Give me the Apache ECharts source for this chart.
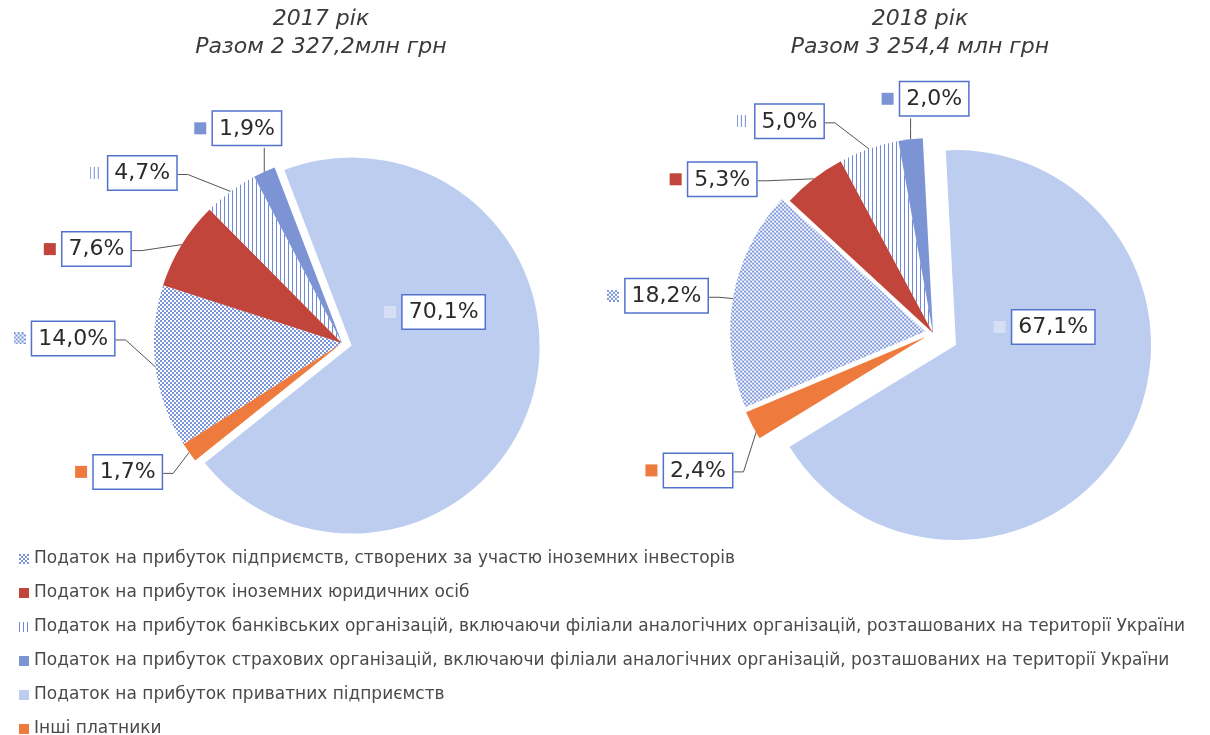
<!DOCTYPE html>
<html>
<head>
<meta charset="utf-8">
<script src="https://cdn.jsdelivr.net/npm/echarts@6/dist/echarts.min.js"></script>
<style>
  html, body { margin: 0; background: #fff; }
  #chart { width: 1210px; height: 735px; }
</style>
</head>
<body>
<div id="chart"></div>
<script>
// категорії платників (порядок легенди)
var categories = [
  'Податок на прибуток підприємств, створених за участю іноземних інвесторів',
  'Податок на прибуток іноземних юридичних осіб',
  'Податок на прибуток банківських організацій, включаючи філіали аналогічних організацій, розташованих на території України',
  'Податок на прибуток страхових організацій, включаючи філіали аналогічних організацій, розташованих на території України',
  'Податок на прибуток приватних підприємств',
  'Інші платники'
];
var years = ['2017 рік', '2018 рік'];
var totals = ['Разом 2 327,2млн грн', 'Разом 3 254,4 млн грн'];
var share2017 = [14.0, 7.6, 4.7, 1.9, 70.1, 1.7];
var share2018 = [18.2, 5.3, 5.0, 2.0, 67.1, 2.4];
// порядок секторів за годинниковою стрілкою, починаючи з найбільшого
var sliceOrder = [4, 5, 0, 1, 2, 3];

function makePattern(w, h, step, draw) {
  var c = document.createElement('canvas');
  c.width = w; c.height = h;
  var ctx = c.getContext('2d');
  ctx.fillStyle = '#ffffff';
  ctx.fillRect(0, 0, w, h);
  for (var x = 0; x < w; x += step) {
    for (var y = 0; y < h; y += step) draw(ctx, x, y);
  }
  return c;
}
function drawStripe(ctx, x, y) {
  ctx.fillStyle = '#6f8bd6';
  ctx.fillRect(x, y, 1, 4);
}
function drawCheck(ctx, x, y) {
  ctx.fillStyle = '#7b95da';
  ctx.fillRect(x, y, 2, 2);
  ctx.fillRect(x + 2, y + 2, 2, 2);
}
var stripes = makePattern(4, 4, 4, drawStripe);
var checks = makePattern(4, 4, 4, drawCheck);

var colors = [
  { image: checks, repeat: 'repeat' },
  '#c1453a',
  { image: stripes, repeat: 'repeat' },
  '#7d94d4',
  '#bccdef',
  '#ee7b3d'
];
var keyColors = [
  { image: makePattern(12, 12, 4, drawCheck) },
  '#c1453a',
  { image: makePattern(12, 12, 4, drawStripe) },
  '#7d94d4',
  '#d6e0f5',
  '#ee7b3d'
];

var rich = {
  v: {
    fontFamily: 'DejaVu Sans',
    fontSize: 22,
    color: '#2b2b2b',
    backgroundColor: '#fff',
    borderColor: '#5272cc',
    borderWidth: 1.5,
    padding: [6, 6, 5, 6]
  }
};
keyColors.forEach(function (c, i) {
  rich['k' + i] = { width: 12, height: 12, backgroundColor: c };
});

function fmt(p) {
  var i = categories.indexOf(p.name);
  return '{k' + i + '|}  {v|' + p.value.toFixed(1).replace('.', ',') + '%}';
}

// зсув підписів відносно точки на краю сектора (для великого сектора — відносно його звичайного місця)
var labelShift2017 = { 0: [-142, -45], 1: [-138, -12], 2: [-141, -35], 3: [-70, -60], 5: [-114, 3], 4: [-11, -59] };
var labelShift2018 = { 0: [-134, -20], 1: [-144, -16], 2: [-132, -44], 3: [-29, -57], 5: [-114, 32], 4: [-1, -65] };

function makeLayout(shifts, above) {
  return function (p) {
    var i = sliceOrder[p.dataIndex];
    var s = shifts[i];
    var r = p.labelRect;
    if (!s || !r) return {};
    if (i === 4) {
      return { dx: s[0], dy: s[1] };
    }
    var a = p.labelLinePoints && p.labelLinePoints[0];
    if (!a) return {};
    var x = a[0] + s[0], y = a[1] + s[1];
    var pts;
    if (i === above) {
      pts = [a, [a[0], (a[1] + y + r.height) / 2], [a[0], y + r.height]];
    } else {
      var ey = y + r.height / 2;
      pts = [a, [x + r.width + 10, ey], [x + r.width, ey]];
    }
    return { x: x, y: y, align: 'left', verticalAlign: 'top', labelLinePoints: pts };
  };
}

function buildSeries(shares, center, radius, startAngle, offset, opts) {
  return {
    type: 'pie',
    center: center,
    radius: radius,
    startAngle: startAngle,
    clockwise: true,
    selectedMode: 'multiple',
    selectedOffset: offset,
    animation: false,
    silent: true,
    avoidLabelOverlap: false,
    itemStyle: { borderWidth: 0 },
    label: { show: opts.labels, formatter: fmt, rich: rich },
    labelLine: { show: opts.labels, length: 16, length2: 14, lineStyle: { color: '#555', width: 1 } },
    labelLayout: opts.layout,
    emphasis: { disabled: true },
    data: sliceOrder.map(function (i) {
      var visible = !opts.visible || opts.visible.indexOf(i) >= 0;
      var item = {
        name: categories[i],
        value: shares[i],
        selected: opts.selected.indexOf(i) >= 0,
        itemStyle: { color: visible ? colors[i] : 'rgba(0,0,0,0)' }
      };
      if (i === 4 && opts.labels) {
        item.label = { position: 'inside' };
        item.labelLine = { show: false };
      }
      return item;
    })
  };
}

var chart = echarts.init(document.getElementById('chart'));
chart.setOption({
  backgroundColor: '#ffffff',
  animation: false,
  graphic: [
    { type: 'text', x: 321, y: 5, style: { text: years[0] + '\n' + totals[0], textAlign: 'center', fill: '#3a3a3a', font: 'italic 22px "DejaVu Sans"', lineHeight: 28 } },
    { type: 'text', x: 920, y: 5, style: { text: years[1] + '\n' + totals[1], textAlign: 'center', fill: '#3a3a3a', font: 'italic 22px "DejaVu Sans"', lineHeight: 28 } }
  ],
  legend: {
    orient: 'vertical',
    left: 14,
    top: 545,
    height: 240,
    itemGap: 16,
    itemWidth: 10,
    itemHeight: 10,
    icon: 'rect',
    selectedMode: false,
    data: categories,
    textStyle: { fontFamily: 'DejaVu Sans', fontSize: 17, lineHeight: 18, color: '#4a4a4a' }
  },
  series: [
    buildSeries(share2017, [342, 343], 188, 111, 10, { labels: true, selected: [4], layout: makeLayout(labelShift2017, 3) }),
    // 2018: великий сектор відсунутий далі, «інші» та «іноземні інвестори» — трохи
    buildSeries(share2018, [933, 333], 195, 93, 26, { labels: true, selected: [4], visible: [4, 1, 2, 3], layout: makeLayout(labelShift2018, 3) }),
    buildSeries(share2018, [933, 333], 195, 93, 8, { labels: false, selected: [5, 0], visible: [5, 0] })
  ]
});
</script>
</body>
</html>
